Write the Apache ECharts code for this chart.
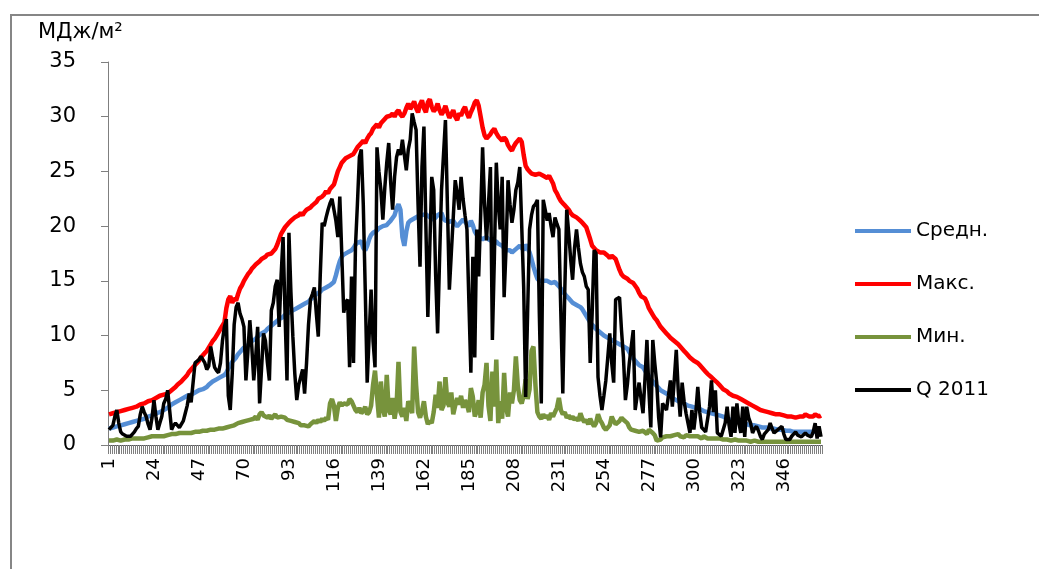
<!DOCTYPE html>
<html>
<head>
<meta charset="utf-8">
<script src="https://cdn.jsdelivr.net/npm/echarts@6/dist/echarts.min.js"></script>
<style>
  html, body { margin: 0; padding: 0; background: #fff; }
  #chart { width: 1039px; height: 569px; }
  #frame { position: absolute; left: 10px; top: 14px; width: 1100px; height: 600px;
           border-top: 2px solid #868686; border-left: 2px solid #868686; pointer-events: none; }
</style>
</head>
<body>
<div id="chart"></div>
<div id="frame"></div>
<script>
// daily solar radiation, MJ/m2, day of year 1..365
var days = [];
for (var i = 1; i <= 365; i++) { days.push(String(i)); }

var seriesNames = ['Средн.', 'Макс.', 'Мин.', 'Q 2011'];

var avgVals = [
  1.5,1.5,1.6,1.6,1.7,1.7,1.8,1.8,1.9,1.9,
  2.0,2.0,2.1,2.1,2.2,2.3,2.3,2.4,2.4,2.5,
  2.6,2.6,2.7,2.8,2.9,3.0,3.0,3.1,3.2,3.3,
  3.4,3.5,3.7,3.8,3.9,4.0,4.1,4.2,4.3,4.4,
  4.5,4.6,4.6,4.7,4.8,4.9,5.0,5.0,5.1,5.2,
  5.3,5.5,5.6,5.8,5.9,6.0,6.1,6.2,6.3,6.4,
  6.6,7.0,7.3,7.6,7.8,8.0,8.3,8.5,8.7,8.9,
  9.0,9.1,9.3,9.5,9.6,9.7,9.9,10.0,10.2,10.3,
  10.4,10.6,10.7,10.9,11.0,11.2,11.3,11.5,11.6,11.7,
  11.9,12.0,12.1,12.2,12.3,12.4,12.5,12.6,12.7,12.8,
  12.9,13.0,13.1,13.3,13.4,13.6,13.8,13.9,14.0,14.2,
  14.3,14.4,14.5,14.6,14.7,14.9,15.5,16.2,16.8,17.2,
  17.4,17.5,17.6,17.5,17.8,18.0,18.3,18.5,18.4,18.6,
  18.0,17.8,18.2,18.8,19.2,19.4,19.5,19.6,19.8,19.9,
  20.0,19.9,20.1,20.3,20.5,20.6,21.0,21.6,22.0,21.5,
  19.0,18.2,19.5,20.3,20.5,20.6,20.7,20.8,20.9,21.0,
  21.0,20.9,21.1,21.0,20.8,20.7,20.6,20.8,21.0,20.9,
  21.2,20.7,20.5,20.6,20.4,20.3,20.5,20.2,20.0,20.2,
  20.3,20.6,20.5,20.2,20.0,20.5,20.1,19.5,19.2,19.0,
  18.9,18.8,18.9,19.0,18.8,18.7,18.6,18.5,18.6,18.4,
  18.3,18.2,18.0,17.8,17.7,17.8,17.6,17.5,17.9,18.0,
  18.2,18.1,17.8,18.3,18.0,17.6,17.0,16.3,15.7,15.2,
  15.0,14.9,15.0,15.1,15.0,14.9,14.8,14.8,14.9,14.7,
  14.5,14.3,14.0,13.8,13.6,13.4,13.2,13.0,12.9,12.8,
  12.7,12.6,12.4,12.1,11.8,11.5,11.2,11.0,10.8,10.6,
  10.5,10.3,10.2,10.0,9.9,9.8,9.7,9.6,9.5,9.4,
  9.3,9.2,9.1,9.0,9.0,8.8,8.5,8.2,7.9,7.7,
  7.5,7.3,7.2,7.1,6.8,6.5,6.3,6.0,5.8,5.6,
  5.4,5.2,5.0,4.9,4.8,4.7,4.6,4.5,4.3,4.2,
  4.1,4.0,3.9,3.8,3.8,3.7,3.6,3.6,3.5,3.5,
  3.4,3.3,3.3,3.2,3.1,3.1,3.0,3.0,2.9,2.9,
  2.8,2.7,2.7,2.6,2.6,2.5,2.4,2.4,2.3,2.3,
  2.2,2.2,2.1,2.1,2.0,2.0,1.9,1.9,1.8,1.8,
  1.8,1.7,1.7,1.7,1.6,1.6,1.6,1.5,1.5,1.5,
  1.5,1.4,1.4,1.4,1.4,1.3,1.3,1.3,1.3,1.3,
  1.2,1.2,1.2,1.2,1.2,1.2,1.2,1.2,1.2,1.2,
  1.2,1.3,1.2,1.3,1.2
];

var maxVals = [
  2.8,2.9,2.9,3.0,3.0,3.1,3.1,3.2,3.2,3.3,
  3.3,3.4,3.4,3.5,3.5,3.6,3.7,3.7,3.8,3.9,
  4.0,4.0,4.1,4.2,4.3,4.4,4.5,4.5,4.6,4.6,
  4.7,4.8,5.0,5.1,5.3,5.5,5.6,5.8,6.0,6.2,
  6.4,6.7,6.9,7.1,7.3,7.5,7.7,8.0,8.2,8.4,
  8.6,8.9,9.2,9.5,9.7,10.0,10.3,10.6,10.9,11.2,
  12.5,13.3,13.6,13.0,13.4,13.2,13.8,14.3,14.6,15.0,
  15.3,15.6,15.8,16.1,16.3,16.5,16.6,16.8,17.0,17.1,
  17.2,17.4,17.3,17.5,17.6,17.9,18.3,18.8,19.3,19.6,
  19.9,20.1,20.3,20.5,20.6,20.8,20.7,21.0,21.2,21.0,
  21.3,21.5,21.4,21.7,21.9,21.8,22.2,22.5,22.4,22.7,
  22.9,23.2,23.0,23.4,23.6,23.8,24.4,25.0,25.4,25.8,
  26.0,26.2,26.1,26.4,26.3,26.6,26.9,27.2,27.3,27.6,
  27.8,27.6,28.0,28.3,28.5,28.9,29.1,29.3,29.0,29.4,
  29.5,29.8,30.0,29.9,30.1,30.3,30.0,30.4,30.6,30.2,
  30.0,30.3,30.8,31.2,30.7,31.0,31.4,30.8,30.4,31.1,
  31.5,30.8,30.4,31.3,31.6,30.9,30.5,30.7,31.2,30.6,
  30.2,30.5,31.0,30.4,29.9,30.2,30.6,30.0,29.7,30.3,
  30.1,30.6,30.9,30.3,29.9,30.4,30.8,31.3,31.5,31.0,
  30.0,29.0,28.3,28.0,27.9,28.4,28.7,28.9,28.5,28.2,
  28.0,27.8,28.1,27.9,27.4,27.1,26.9,27.3,27.6,27.8,
  28.0,27.7,26.5,25.5,25.2,25.0,24.8,24.9,24.7,24.6,
  24.8,24.9,24.6,24.5,24.4,24.6,24.5,23.9,23.3,23.0,
  22.6,22.3,22.1,21.9,21.8,21.5,21.2,21.0,20.9,20.8,
  20.7,20.5,20.3,20.1,19.9,19.8,18.8,18.2,18.0,17.8,
  17.7,17.6,17.5,17.6,17.5,17.3,17.1,17.3,17.2,17.0,
  16.5,16.0,15.6,15.4,15.3,15.2,15.0,14.9,14.8,14.7,
  14.3,13.9,13.6,13.5,13.4,13.0,12.5,12.2,11.9,11.6,
  11.4,11.1,10.8,10.6,10.4,10.2,10.0,9.8,9.7,9.5,
  9.4,9.2,9.0,8.8,8.6,8.4,8.2,8.0,7.9,7.7,
  7.6,7.5,7.3,7.1,6.9,6.7,6.5,6.4,6.2,6.0,
  5.9,5.7,5.5,5.3,5.1,5.0,4.9,4.7,4.6,4.5,
  4.4,4.4,4.3,4.2,4.1,4.0,3.9,3.8,3.7,3.6,
  3.5,3.4,3.3,3.2,3.2,3.1,3.0,3.0,2.9,2.9,
  2.9,2.8,2.8,2.8,2.7,2.7,2.6,2.6,2.6,2.6,
  2.5,2.5,2.5,2.6,2.5,2.6,2.8,2.9,2.6,2.7,
  2.6,2.8,2.7,2.6,2.7
];

var minVals = [
  0.4,0.4,0.4,0.4,0.5,0.4,0.4,0.5,0.5,0.5,
  0.5,0.5,0.6,0.5,0.6,0.6,0.6,0.7,0.6,0.7,
  0.7,0.7,0.8,0.7,0.8,0.8,0.8,0.9,0.8,0.9,
  0.9,0.9,1.0,0.9,1.0,1.0,1.1,1.0,1.1,1.1,
  1.1,1.2,1.1,1.2,1.2,1.3,1.2,1.3,1.3,1.4,
  1.3,1.4,1.4,1.5,1.4,1.5,1.5,1.6,1.5,1.6,
  1.6,1.7,1.7,1.8,1.8,1.9,2.0,1.9,2.1,2.0,
  2.2,2.1,2.3,2.2,2.4,2.6,2.3,2.8,3.0,2.7,
  2.6,2.5,2.7,2.4,2.6,2.8,2.5,2.4,2.6,2.7,
  2.5,2.3,2.4,2.2,2.3,2.1,2.2,2.0,1.8,1.7,
  1.8,1.9,1.7,1.9,2.0,2.2,2.0,2.3,2.1,2.4,
  2.2,2.5,2.3,3.8,4.2,3.6,2.2,3.4,3.9,3.6,
  3.8,3.9,3.7,4.2,4.0,3.6,3.2,3.0,3.4,2.9,
  3.1,3.5,2.8,3.0,3.6,5.5,6.8,4.5,2.5,5.8,
  3.3,2.6,6.4,3.2,2.8,4.3,2.4,3.5,7.6,3.0,
  2.6,3.4,2.2,4.0,3.6,2.9,9.0,5.5,3.0,2.5,
  3.1,4.0,2.6,1.9,2.2,2.0,3.0,4.6,3.4,5.8,
  3.2,3.6,6.2,3.9,3.5,4.8,2.8,3.6,4.3,3.7,
  4.5,3.4,4.1,3.7,3.0,5.2,4.4,2.6,3.1,4.1,
  2.5,4.8,5.5,7.5,3.6,2.2,6.7,3.5,7.8,2.0,
  4.0,2.4,6.6,3.4,2.6,4.8,3.8,5.0,8.1,5.4,
  4.1,3.8,4.5,6.0,4.2,5.1,8.6,9.0,5.5,3.0,
  2.6,2.4,2.8,2.5,2.7,2.3,2.9,2.6,3.0,3.4,
  4.3,3.2,2.8,3.0,2.5,2.7,2.4,2.6,2.3,2.5,
  2.2,2.9,2.4,2.1,2.3,1.9,2.4,2.0,1.7,2.0,
  2.8,2.3,2.0,1.6,1.4,1.5,1.8,2.6,2.2,1.9,
  2.0,2.2,2.5,2.3,2.3,2.0,1.6,1.4,1.5,1.3,
  1.4,1.2,1.1,1.3,1.2,1.0,1.4,1.3,1.1,0.9,
  0.4,0.3,0.5,0.7,0.6,0.8,0.9,0.8,0.7,0.9,
  0.9,1.0,0.8,0.9,0.7,0.9,1.0,0.8,0.9,0.8,
  0.7,0.8,0.7,0.6,0.8,0.7,0.6,0.7,0.6,0.6,
  0.6,0.5,0.6,0.5,0.5,0.6,0.5,0.5,0.4,0.5,
  0.5,0.4,0.4,0.5,0.4,0.4,0.4,0.4,0.3,0.4,
  0.4,0.3,0.3,0.4,0.3,0.3,0.3,0.3,0.3,0.3,
  0.3,0.3,0.3,0.3,0.3,0.3,0.3,0.3,0.3,0.3,
  0.3,0.3,0.3,0.3,0.3,0.3,0.3,0.3,0.3,0.3,
  0.3,0.3,0.3,0.3,0.3
];

var q2011Vals = [
  1.4,1.4,1.8,2.6,3.2,2.0,1.2,1.0,1.1,0.8,
  0.7,0.8,1.0,1.2,1.5,1.7,2.8,3.5,3.0,2.6,
  1.9,1.4,2.5,4.1,2.6,1.4,2.0,2.6,3.8,4.2,
  5.0,3.2,1.4,1.8,2.0,1.8,1.6,1.7,2.2,2.9,
  3.6,4.7,3.9,3.8,7.5,7.6,7.8,8.1,7.8,7.5,
  6.9,7.2,9.0,8.0,7.1,6.8,6.6,7.5,9.5,10.8,
  11.5,4.5,3.2,6.5,11.0,12.6,13.0,12.0,11.5,10.8,
  5.9,8.5,11.4,9.0,5.9,8.0,10.8,3.8,7.0,10.2,
  9.5,7.5,5.9,12.3,13.0,14.5,15.1,10.8,15.5,19.0,
  12.0,5.9,19.4,14.0,9.9,6.5,4.1,5.5,6.2,6.9,
  4.7,7.5,11.0,13.3,13.8,14.4,12.0,9.9,15.5,20.3,
  20.0,20.8,21.5,22.1,22.5,22.4,20.5,19.0,22.7,17.5,
  12.1,13.0,13.3,7.1,15.4,7.5,18.1,22.0,26.3,27.0,
  22.0,14.2,5.7,10.0,14.2,9.5,7.1,27.2,25.0,23.3,
  20.6,23.5,25.8,27.6,24.0,21.5,24.5,26.3,27.0,26.5,
  27.9,26.5,25.1,27.0,27.9,30.3,29.5,28.8,22.0,16.3,
  25.4,29.1,20.0,11.7,18.0,24.5,23.3,15.5,10.2,17.0,
  23.3,26.5,29.7,22.0,14.2,17.5,20.8,24.2,23.0,21.5,
  24.5,22.5,21.0,19.7,13.0,6.6,17.2,8.0,19.7,15.4,
  21.0,27.2,22.0,18.7,22.0,25.4,9.6,17.0,25.8,22.0,
  19.7,24.5,13.5,18.0,24.2,22.0,20.3,21.5,23.3,24.0,
  25.4,20.0,14.4,4.4,12.0,19.7,21.0,21.8,22.0,22.4,
  12.0,3.8,22.4,21.5,20.5,21.2,20.0,19.0,20.8,20.2,
  19.7,12.0,4.7,14.0,21.5,19.4,17.0,15.1,18.0,19.7,
  18.0,16.6,15.8,15.4,14.5,14.2,7.5,12.0,17.8,17.5,
  6.2,4.5,3.2,4.5,5.9,8.0,10.2,7.5,5.7,13.3,
  13.4,13.5,10.5,8.0,4.1,5.5,7.5,9.0,10.5,3.2,
  4.5,5.7,4.2,2.9,6.0,9.6,5.0,1.6,9.6,7.5,
  5.7,2.5,0.7,3.8,3.5,3.2,4.5,5.9,3.5,6.0,
  8.7,5.0,2.6,5.7,4.0,2.9,2.0,1.1,3.2,1.4,
  3.0,5.3,3.0,1.6,1.4,1.2,1.1,3.5,5.9,3.0,
  5.0,1.1,1.0,0.8,0.75,2.0,3.5,1.8,0.75,3.5,
  1.1,3.8,2.0,1.1,3.5,0.75,3.5,2.5,2.0,1.1,
  1.5,1.7,1.3,0.8,0.5,1.0,1.2,1.4,2.0,1.5,
  1.1,1.2,1.4,1.5,1.7,1.0,0.5,0.6,0.5,0.8,
  1.0,1.2,0.9,0.8,0.75,0.9,1.1,0.9,0.8,0.75,
  1.2,2.0,0.6,1.7,0.75
];

var chart = echarts.init(document.getElementById('chart'));

var font = 'DejaVu Sans';

var option = {
    animation: false,
    title: {
        text: 'МДж/м²',
        left: 38,
        top: 22,
        padding: 0,
        textStyle: { fontFamily: font, fontSize: 21, fontWeight: 'normal', color: '#000' }
    },
    legend: {
        orient: 'vertical',
        left: 850,
        top: 216,
        itemWidth: 56,
        itemHeight: 4,
        itemGap: 33,
        icon: 'rect',
        textStyle: { fontFamily: font, fontSize: 20, color: '#000' },
        data: seriesNames
    },
    grid: {
        left: 108,
        right: 217,
        top: 62,
        bottom: 124
    },
    xAxis: {
        type: 'category',
        data: days,
        axisTick: {
            show: true,
            interval: 0,
            length: 9,
            lineStyle: { color: '#7f7f7f', width: 1 }
        },
        // day labels are placed upright below, from this axis's own scale
        axisLabel: { show: false, interval: 22 }
    },
    yAxis: {
        type: 'value',
        min: 0,
        max: 35,
        interval: 5,
        axisLine: { show: true, lineStyle: { color: '#7f7f7f' } },
        axisTick: { show: true, length: 7, lineStyle: { color: '#7f7f7f' } },
        axisLabel: {
            margin: 32,
            fontFamily: font,
            fontSize: 21,
            color: '#000'
        },
        splitLine: { show: false }
    },
    series: [
        {
            name: seriesNames[0],
            type: 'line',
            data: avgVals,
            symbol: 'none',
            lineStyle: { width: 4.5, color: '#558ED5' },
            itemStyle: { color: '#558ED5' }
        },
        {
            name: seriesNames[1],
            type: 'line',
            data: maxVals,
            symbol: 'none',
            lineStyle: { width: 4.5, color: '#FF0000' },
            itemStyle: { color: '#FF0000' }
        },
        {
            name: seriesNames[2],
            type: 'line',
            data: minVals,
            symbol: 'none',
            lineStyle: { width: 4.5, color: '#77933C' },
            itemStyle: { color: '#77933C' }
        },
        {
            name: seriesNames[3],
            type: 'line',
            data: q2011Vals,
            symbol: 'none',
            lineStyle: { width: 3.5, color: '#000000' },
            itemStyle: { color: '#000000' }
        }
    ]
};

chart.setOption(option);

// upright day labels, every 23rd day, positioned by the category axis
var axisY = chart.convertToPixel({ yAxisIndex: 0 }, 0);
var dayLabels = [];
for (var k = 0; k < days.length; k += 23) {
    var px = chart.convertToPixel({ xAxisIndex: 0 }, days[k]);
    dayLabels.push({
        type: 'text',
        x: px,
        y: axisY + 13,
        rotation: Math.PI / 2,
        silent: true,
        style: {
            text: days[k],
            align: 'right',
            verticalAlign: 'middle',
            fontFamily: font,
            fontSize: 18,
            fill: '#000'
        }
    });
}
chart.setOption({ graphic: dayLabels });
</script>
</body>
</html>
